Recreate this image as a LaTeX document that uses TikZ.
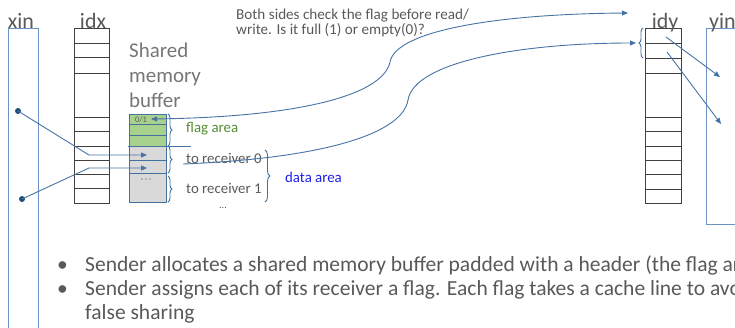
\documentclass[tikz,border=0pt]{standalone}
\usepackage{fontspec}
\setmainfont{Carlito}
\usetikzlibrary{arrows.meta,decorations.pathreplacing}
\definecolor{txtgray}{RGB}{89,89,89}
\definecolor{titlegray}{RGB}{118,118,118}
\definecolor{linkblue}{RGB}{70,115,165}
\definecolor{boxblue}{RGB}{110,145,195}
\definecolor{bufblue}{RGB}{65,113,156}
\definecolor{dotblue}{RGB}{31,78,121}
\definecolor{flaggreen}{RGB}{169,209,142}
\definecolor{cellgray}{RGB}{217,217,217}
\definecolor{areagreen}{RGB}{84,140,50}
\definecolor{areablue}{RGB}{30,30,230}
\definecolor{arraygray}{RGB}{64,64,64}
\tikzset{
  arr/.style={draw=arraygray, line width=0.8bp},
  vecbox/.style={draw=boxblue, line width=0.9bp},
  link/.style={draw=linkblue, line width=0.9bp},
  tip/.style={-{Triangle[length=6bp,width=5bp]}},
  lab/.style={font=\fontsize{22}{24}\selectfont, text=txtgray, inner sep=0pt},
  small/.style={font=\fontsize{14.9}{16}\selectfont, text=txtgray, inner sep=0pt, anchor=base west},
  qtext/.style={font=\fontsize{15.2}{16}\selectfont, text=txtgray, inner sep=0pt, anchor=base west},
  dotnode/.style={circle, fill=dotblue, inner sep=0pt, minimum size=6bp},
  brc/.style={draw=bufblue, line width=0.9bp, decorate, decoration={brace, amplitude=4bp}},
  bullettxt/.style={font=\fontsize{21.6}{24}\selectfont, text=txtgray, inner sep=0pt, anchor=base west},
  titletxt/.style={font=\fontsize{21}{25}\selectfont, text=titlegray, inner sep=0pt, anchor=base west},
}
\begin{document}
\begin{tikzpicture}[x=1bp,y=-1bp]
\useasboundingbox (0,0) rectangle (735,327);
\clip (0,0) rectangle (735,327);

% xin and yin vectors
\draw[vecbox] (8,28) rectangle (38,340);
\node[lab, anchor=base] (xinlab) at (21,28) {xin};
\draw[vecbox] (706,28) rectangle (760,224);
\node[lab, anchor=base west] (yinlab) at (709,28) {yin};

% idx array
\draw[arr] (74,28) rectangle (109,203);
\foreach \y in {43,57,73,117,131,146,160,174,188} \draw[arr] (74,\y) -- (109,\y);
\node[lab, anchor=base] (idxlab) at (93,28) {idx};

% idy array
\draw[arr] (645,28) rectangle (681,203);
\foreach \y in {43,58,73,117,131,146,160,174,189} \draw[arr] (645,\y) -- (681,\y);
\node[lab, anchor=base] (idylab) at (665,28) {idy};

% shared memory buffer title
\node[titletxt] (t1) at (129,57) {Shared};
\node[titletxt] (t2) at (129,82) {memory};
\node[titletxt] (t3) at (129,107) {buffer};

% buffer cells
\foreach \a/\b in {114/124,124/135,135/146}
  \draw[draw=bufblue, fill=flaggreen, line width=0.9bp] (129,\a) rectangle (166,\b);
\foreach \a/\b in {146/160,160/173,173/202}
  \draw[draw=bufblue, fill=cellgray, line width=0.9bp] (129,\a) rectangle (166,\b);
\node[font=\fontsize{8.5}{9}\selectfont, text=txtgray, inner sep=0pt] (flag) at (141,119.5) {0/1};
\node[font=\fontsize{12}{12}\selectfont, text=txtgray, inner sep=0pt] (cdots) at (146,180) {$\cdot\!\cdot\!\cdot$};
\coordinate (r0) at (147,155);
\coordinate (r1) at (147,168);
\coordinate (flagtip) at (151,119);

% small braces
\draw[brc] (168,114) -- (168,146);
\draw[brc] (168,146) -- (168,173);
\draw[brc] (168,176) -- (168,202);
\draw[brc, decoration={brace, amplitude=5bp}] (265,150) -- (265,202);
\node[small, text=areagreen] (fa) at (186,132) {flag area};
\node[small] (tr0) at (186,163) {to receiver 0};
\node[small] (tr1) at (186,193) {to receiver 1};
\node[font=\fontsize{10}{10}\selectfont, text=txtgray, inner sep=0pt] (dd) at (223,208) {...};
\node[small, text=areablue] (da) at (285,182) {data area};

% stray line
\coordinate (s1) at (128,146);
\coordinate (s2) at (191,146);
\draw[link] (s1) -- (s2);

% dots and pointers
\node[dotnode] (d1) at (18,111) {};
\node[dotnode] (d2) at (22,199) {};
\draw[link, tip] (d1.center) -- (89,155) -- (r0);
\draw[link, tip] (d2.center) -- (89,168) -- (r1);

% question text
\node[qtext] (q1) at (236,19) {Both sides check the flag before read/};
\node[qtext] (q2) at (236,34) {write. Is it full (1) or empty(0)?};

% idy brace and long curves
\coordinate (top) at (628,13);
\coordinate (idytip) at (636,43);
\coordinate (c2s) at (183,164);
\draw[brc, decoration={brace, amplitude=4bp, mirror}] (643,28) -- (643,58);
\draw[link, {Triangle[length=6bp,width=5bp]}-{Triangle[length=6bp,width=5bp]}]
  (flagtip) .. controls (300,117) and (383,95) .. (390,62)
  .. controls (396,30) and (500,14) .. (top);
\draw[link, tip]
  (c2s) .. controls (330,158) and (403,132) .. (408,100)
  .. controls (414,62) and (520,43) .. (idytip);

% idy to yin
\coordinate (y1s) at (666,37);
\coordinate (y1e) at (720,77);
\coordinate (y2s) at (667,52);
\coordinate (y2e) at (721,124);
\draw[link, tip] (y1s) -- (y1e);
\draw[link, tip] (y2s) -- (y2e);

% bullets
\node[bullettxt] (b1) at (57,271) {•};
\node[bullettxt] (b2) at (57,295) {•};
\node[bullettxt] (l1) at (85,271) {Sender allocates a shared memory buffer padded with a header (the flag ar};
\node[bullettxt] (l2) at (85,295) {Sender assigns each of its receiver a flag. Each flag takes a cache line to avo};
\node[bullettxt] (l3) at (85,319) {false sharing};
\end{tikzpicture}
\end{document}
